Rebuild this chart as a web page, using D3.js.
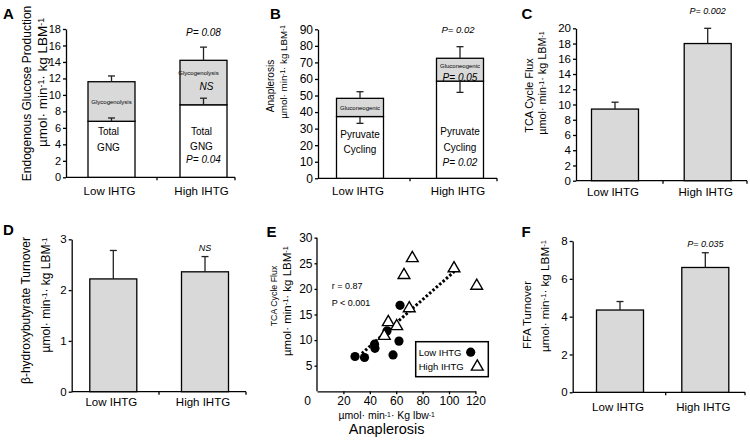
<!DOCTYPE html>
<html>
<head>
<meta charset="utf-8">
<script src="https://cdn.jsdelivr.net/npm/d3@7"></script>
<style>
body { margin: 0; background: #fff; }
svg text { font-family: Arial, "Liberation Sans", sans-serif; fill: #000; }
</style>
</head>
<body>
<script>
var categories = ["Low IHTG", "High IHTG"];

// A: endogenous glucose production (GNG + glycogenolysis)
var gngValues = [6.8, 8.8];
var gngErr = [7.2, 9.6];
var egpTotal = [11.6, 14.2];
var egpErr = [12.3, 15.8];

// B: anaplerosis (pyruvate cycling + gluconeogenic)
var pcValues = [37.3, 58.7];
var pcErrLow = [33.2, 51.9];
var anaTotal = [48.3, 72.5];
var anaErr = [52.3, 79.5];

// C: TCA cycle flux
var tcaValues = [9.4, 18.0];
var tcaErr = [10.3, 20.0];

// D: beta-hydroxybutyrate turnover
var bhbValues = [2.22, 2.36];
var bhbErr = [2.78, 2.66];

// F: FFA turnover
var ffaValues = [4.35, 6.6];
var ffaErr = [4.8, 7.38];

// E: scatter, anaplerosis vs TCA flux
var lowAna = [28.8, 36.0, 43.6, 43.9, 53.0, 57.6, 62.1, 62.9];
var lowTca = [6.8, 6.6, 9.2, 8.4, 11.8, 7.1, 9.8, 16.8];
var highAna = [51.0, 54.0, 60.4, 69.9, 65.9, 72.2, 103.8, 121.0];
var highTca = [10.8, 13.5, 12.7, 16.2, 22.7, 26.0, 24.0, 20.6];
var trendAna = [34, 104];
var trendTca = [7.4, 23.4];
var eXTicks = [0, 20, 40, 60, 80, 100, 120];
var eYTicks = [5, 10, 15, 20, 25, 30];

var svg = d3.select("body").append("svg")
    .attr("width", 750)
    .attr("height", 444);

function unitText(sel, a) {
    // "µmol· min-1· kg LBM-1" with superscripts
    sel.append("tspan").text("µmol· min");
    sel.append("tspan").attr("dy", "-0.35em").attr("font-size", "0.65em").text("-1");
    sel.append("tspan").attr("dy", "0.23em").text("· " + a);
    sel.append("tspan").attr("dy", "-0.35em").attr("font-size", "0.65em").text("-1");
}

function yTitle(x, yc, size, fn) {
    var t = svg.append("text")
        .attr("transform", "translate(" + x + "," + yc + ") rotate(-90)")
        .attr("text-anchor", "middle")
        .attr("font-size", size);
    fn(t);
    return t;
}

function panelLetter(x, y, s) {
    svg.append("text").attr("x", x).attr("y", y)
        .attr("font-size", 15).attr("font-weight", "bold").text(s);
}

function barPanel(p) {
    var y = d3.scaleLinear().domain([0, p.max]).range([p.yBase, p.yTop]);
    var x = d3.scalePoint().domain(categories).range(p.centers);
    var g = svg.append("g");
    var bw = 47;

    var ax = g.append("g")
        .attr("transform", "translate(" + p.x0 + ",0)")
        .call(d3.axisLeft(y).tickValues(p.ticks).tickFormat(d3.format("d"))
            .tickSize(3).tickSizeOuter(0).tickPadding(2));
    ax.selectAll("text").attr("font-size", p.tickFont || 11).attr("font-family", null);
    ax.selectAll("line,path").attr("stroke", "#000").attr("stroke-width", 1.3);

    // category axis
    g.append("line").attr("x1", p.x0).attr("x2", p.xEnd)
        .attr("y1", p.yBase).attr("y2", p.yBase)
        .attr("stroke", "#000").attr("stroke-width", 1.3);
    [p.mid, p.xEnd].forEach(function (t) {
        g.append("line").attr("x1", t).attr("x2", t)
            .attr("y1", p.yBase).attr("y2", p.yBase + 3)
            .attr("stroke", "#000").attr("stroke-width", 1.3);
    });
    g.selectAll(".cat").data(categories).enter().append("text")
        .attr("x", function (d) { return x(d) - 2; })
        .attr("y", p.yBase + p.labelDy)
        .attr("text-anchor", "middle")
        .attr("font-size", 11.5)
        .text(function (d) { return d; });

    p.segments.forEach(function (s) {
        g.selectAll(null).data(categories).enter().append("rect")
            .attr("x", function (d) { return x(d) - bw / 2; })
            .attr("width", bw)
            .attr("y", function (d, i) { return y(s.hi[i]); })
            .attr("height", function (d, i) { return y(s.lo ? s.lo[i] : 0) - y(s.hi[i]); })
            .attr("fill", s.fill)
            .attr("stroke", "#000")
            .attr("stroke-width", 1.3);
    });

    // error bars
    p.errors.forEach(function (e) {
        categories.forEach(function (d, i) {
            var cx = x(d);
            g.append("line").attr("x1", cx).attr("x2", cx)
                .attr("y1", y(e.from[i])).attr("y2", y(e.to[i]))
                .attr("stroke", "#222").attr("stroke-width", 1.3);
            g.append("line").attr("x1", cx - 3.5).attr("x2", cx + 3.5)
                .attr("y1", y(e.to[i])).attr("y2", y(e.to[i]))
                .attr("stroke", "#222").attr("stroke-width", 1.3);
        });
    });

    (p.notes || []).forEach(function (n) {
        var t = g.append("text")
            .attr("x", x(categories[n.c]) + (n.dx || 0))
            .attr("y", n.y)
            .attr("text-anchor", "middle")
            .attr("font-size", n.size)
            .text(n.t);
        if (n.it) t.attr("font-style", "italic");
    });
    return { x: x, y: y };
}

// ---------- A ----------
panelLetter(3, 18.5, "A");
yTitle(31, 93.5, 12, function (t) { t.text("Endogenous Glucose Production"); });
yTitle(47, 82.5, 13.5, function (t) { unitText(t, "kg LBM"); });
barPanel({
    x0: 66, xEnd: 235, mid: 157, yBase: 177.3, yTop: 29, max: 18, labelDy: 17.5,
    ticks: d3.range(0, 19, 2), centers: [111.5, 203.5],
    segments: [
        { hi: gngValues, fill: "#fff" },
        { lo: gngValues, hi: egpTotal, fill: "#d9d9d9" }
    ],
    errors: [
        { from: gngValues, to: gngErr },
        { from: egpTotal, to: egpErr }
    ],
    notes: [
        { c: 0, t: "Glycogenolysis", y: 103.5, size: 6 },
        { c: 0, t: "Total", y: 135, size: 10, dx: -3 },
        { c: 0, t: "GNG", y: 151, size: 10, dx: -3 },
        { c: 1, t: "Glycogenolysis", y: 74.5, size: 6, dx: -5 },
        { c: 1, t: "NS", y: 90, size: 10, it: true, dx: 3 },
        { c: 1, t: "Total", y: 134.5, size: 10, dx: -2 },
        { c: 1, t: "GNG", y: 150, size: 10, dx: -2 },
        { c: 1, t: "P= 0.04", y: 162.5, size: 10, it: true },
        { c: 1, t: "P= 0.08", y: 36, size: 10, it: true }
    ]
});

// ---------- B ----------
panelLetter(270, 18.5, "B");
yTitle(274, 86, 10, function (t) { t.text("Anaplerosis"); });
yTitle(287, 72, 9.8, function (t) { unitText(t, "kg LBM"); });
barPanel({
    x0: 318, xEnd: 497, mid: 410, yBase: 178.3, yTop: 29.3, max: 90, labelDy: 17,
    ticks: d3.range(0, 91, 10), centers: [360, 460], tickFont: 12,
    segments: [
        { hi: pcValues, fill: "#fff" },
        { lo: pcValues, hi: anaTotal, fill: "#d9d9d9" }
    ],
    errors: [
        { from: pcValues, to: pcErrLow },
        { from: anaTotal, to: anaErr }
    ],
    notes: [
        { c: 0, t: "Gluconeogenic", y: 110, size: 6 },
        { c: 0, t: "Pyruvate", y: 137.5, size: 10 },
        { c: 0, t: "Cycling", y: 153, size: 10 },
        { c: 1, t: "Gluconeogenic", y: 68, size: 6 },
        { c: 1, t: "P= 0.05", y: 80.5, size: 10, it: true },
        { c: 1, t: "Pyruvate", y: 135, size: 10 },
        { c: 1, t: "Cycling", y: 150.5, size: 10 },
        { c: 1, t: "P= 0.02", y: 165.5, size: 10, it: true },
        { c: 1, t: "P= 0.02", y: 33, size: 9.5, it: true, dx: -2 }
    ]
});

// ---------- C ----------
panelLetter(521.5, 18.5, "C");
yTitle(532.5, 95.5, 10.8, function (t) { t.text("TCA Cycle Flux"); });
yTitle(546, 83, 10.8, function (t) { unitText(t, "kg LBM"); });
barPanel({
    x0: 576, xEnd: 747, mid: 663, yBase: 180.7, yTop: 28.3, max: 20, labelDy: 15.5,
    ticks: d3.range(0, 21, 2), centers: [615, 707.7], tickFont: 11.5,
    segments: [{ hi: tcaValues, fill: "#d9d9d9" }],
    errors: [{ from: tcaValues, to: tcaErr }],
    notes: [{ c: 1, t: "P= 0.002", y: 14, size: 9, it: true }]
});

// ---------- D ----------
panelLetter(3, 235, "D");
yTitle(29.5, 310.5, 12, function (t) { t.text("β-hydroxybutyrate Turnover"); });
yTitle(49.5, 295, 12, function (t) { unitText(t, "kg LBM"); });
barPanel({
    x0: 71.7, xEnd: 246, mid: 159, yBase: 391.7, yTop: 239.3, max: 3, labelDy: 14.5,
    ticks: [0, 1, 2, 3], centers: [113.3, 205], tickFont: 11.5,
    segments: [{ hi: bhbValues, fill: "#d9d9d9" }],
    errors: [{ from: bhbValues, to: bhbErr }],
    notes: [{ c: 1, t: "NS", y: 250.5, size: 9, it: true }]
});

// ---------- F ----------
panelLetter(521.5, 236.5, "F");
yTitle(531, 315, 11.3, function (t) { t.text("FFA Turnover"); });
yTitle(548.5, 296, 11.7, function (t) { unitText(t, "kg LBM"); });
barPanel({
    x0: 572.7, xEnd: 745, mid: 665.7, yBase: 392.3, yTop: 241, max: 8, labelDy: 18.5,
    ticks: [0, 2, 4, 6, 8], centers: [620, 705.3], tickFont: 11.5,
    segments: [{ hi: ffaValues, fill: "#d9d9d9" }],
    errors: [{ from: ffaValues, to: ffaErr }],
    notes: [{ c: 1, t: "P= 0.035", y: 246.5, size: 9, it: true }]
});

// ---------- E ----------
panelLetter(266.5, 236.5, "E");
yTitle(277, 296, 8.8, function (t) { t.text("TCA Cycle Flux"); });
yTitle(291, 301, 11.5, function (t) { unitText(t, "kg LBM"); });

var ex = d3.scaleLinear().domain([0, 120]).range([317, 475.4]);
var ey = d3.scaleLinear().domain([0, 30]).range([391.3, 237.7]);

var eyAxis = svg.append("g").attr("transform", "translate(317,0)")
    .call(d3.axisLeft(ey).tickValues(eYTicks).tickSize(2.5).tickPadding(2));
eyAxis.select(".domain").attr("d", "M0," + ey(30) + "V" + ey(0));
var exAxis = svg.append("g").attr("transform", "translate(0,391.3)")
    .call(d3.axisBottom(ex).tickValues(eXTicks).tickSize(3).tickSizeOuter(0).tickPadding(2));
exAxis.selectAll(".tick").filter(function (d) { return d === 0; })
    .select("line").remove();
exAxis.selectAll(".tick").filter(function (d) { return d === 0; })
    .select("text").attr("dx", -10);
[eyAxis, exAxis].forEach(function (a) {
    a.selectAll("text").attr("font-size", 12).attr("font-family", null);
    a.selectAll("line,path").attr("stroke", "#000").attr("stroke-width", 1.3);
});

svg.append("text").attr("x", 386.7).attr("y", 419).attr("text-anchor", "middle")
    .attr("font-size", 10.5).call(function (t) { unitText(t, "Kg lbw"); });
svg.append("text").attr("x", 386.7).attr("y", 433.5).attr("text-anchor", "middle")
    .attr("font-size", 14.5).text("Anaplerosis");

svg.append("line")
    .attr("x1", ex(trendAna[0])).attr("y1", ey(trendTca[0]))
    .attr("x2", ex(trendAna[1])).attr("y2", ey(trendTca[1]))
    .attr("stroke", "#000").attr("stroke-width", 3).attr("stroke-dasharray", "2.5,2");

svg.append("text").attr("x", 331.7).attr("y", 289).attr("font-size", 9).text("r = 0.87");
svg.append("text").attr("x", 331.7).attr("y", 305.5).attr("font-size", 9).text("P < 0.001");

var tri = d3.symbol().type(d3.symbolTriangle).size(60);

svg.selectAll(".low").data(lowAna).enter().append("circle")
    .attr("cx", function (d) { return ex(d); })
    .attr("cy", function (d, i) { return ey(lowTca[i]); })
    .attr("r", 4.6).attr("fill", "#000");

svg.selectAll(".high").data(highAna).enter().append("path")
    .attr("d", tri)
    .attr("transform", function (d, i) { return "translate(" + ex(d) + "," + ey(highTca[i]) + ")"; })
    .attr("fill", "#fff").attr("stroke", "#000").attr("stroke-width", 1.4);

// legend
var lg = svg.append("g").attr("transform", "translate(415.7,341.7)");
lg.append("rect").attr("width", 72.6).attr("height", 35)
    .attr("fill", "#fff").attr("stroke", "#000").attr("stroke-width", 1.5);
lg.append("text").attr("x", 3).attr("y", 14).attr("font-size", 9.5).text("Low IHTG");
lg.append("circle").attr("cx", 55).attr("cy", 10.5).attr("r", 4.6).attr("fill", "#000");
lg.append("text").attr("x", 3).attr("y", 28.5).attr("font-size", 9.5).text("High IHTG");
lg.append("path").attr("d", tri).attr("transform", "translate(61.6,25)")
    .attr("fill", "#fff").attr("stroke", "#000").attr("stroke-width", 1.4);
</script>
</body>
</html>
